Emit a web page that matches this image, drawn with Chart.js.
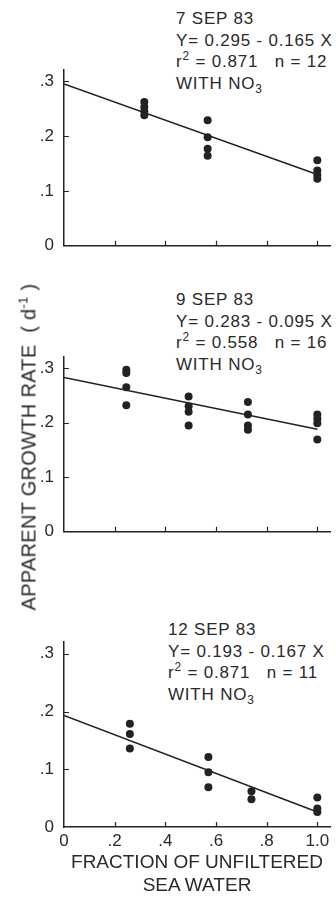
<!DOCTYPE html>
<html>
<head>
<meta charset="utf-8">
<script src="https://cdn.jsdelivr.net/npm/chart.js@4"></script>
<style>
  body { margin: 0; background: #fff; width: 336px; height: 900px; position: relative; overflow: hidden;
         font-family: "Liberation Sans", Arial, sans-serif; color: #2a2a2a; }
  .panel { position: absolute; left: 0; width: 336px; }
  .note { position: absolute; font-size: 17px; line-height: 21.5px; white-space: pre; letter-spacing: 0.8px; }
  .note sup, .note sub { font-size: 70%; line-height: 0; }
  .ytitle { position: absolute; left: 29px; top: 447px; font-size: 20px; white-space: pre; letter-spacing: 0.3px;
            transform: translate(-50%, -50%) rotate(-90deg); }
  .ytitle sup { font-size: 65%; line-height: 0; }
  .xtitle { position: absolute; left: 0; width: 394px; text-align: center; font-size: 19px; white-space: pre; }
</style>
</head>
<body>
<div class="note" style="left:176px;top:8px">7 SEP 83
Y= 0.295 - 0.165 X
r<sup>2</sup> = 0.871   n = 12
WITH NO<sub>3</sub></div>
<div class="note" style="left:176px;top:289px">9 SEP 83
Y= 0.283 - 0.095 X
r<sup>2</sup> = 0.558   n = 16
WITH NO<sub>3</sub></div>
<div class="note" style="left:168px;top:619px">12 SEP 83
Y= 0.193 - 0.167 X
r<sup>2</sup> = 0.871   n = 11
WITH NO<sub>3</sub></div>

<div class="panel" style="top:50px;height:216px"><canvas id="p1"></canvas></div>
<div class="panel" style="top:337px;height:215px"><canvas id="p2"></canvas></div>
<div class="panel" style="top:622px;height:235px"><canvas id="p3"></canvas></div>

<div class="ytitle">APPARENT GROWTH RATE  ( d<sup>-1</sup> )</div>
<div class="xtitle" style="top:851px">FRACTION OF UNFILTERED</div>
<div class="xtitle" style="top:874px">SEA WATER</div>

<script>
const xTicks = [0, 0.2, 0.4, 0.6, 0.8, 1.0];
const xTickLabels = ['0', '.2', '.4', '.6', '.8', '1.0'];
const yTicks = [0, 0.1, 0.2, 0.3];
const yTickLabels = ['0', '.1', '.2', '.3'];
const fitX = [0, 1];

// 7 SEP 83
const sep7X = [0.317, 0.317, 0.317, 0.317, 0.567, 0.567, 0.567, 0.567, 1, 1, 1, 1];
const sep7Y = [0.262, 0.253, 0.245, 0.238, 0.229, 0.198, 0.177, 0.164, 0.156, 0.137, 0.129, 0.122];
const sep7Fit = [0.295, 0.130];

// 9 SEP 83
const sep9X = [0.246, 0.246, 0.246, 0.246, 0.492, 0.492, 0.492, 0.492, 0.726, 0.726, 0.726, 0.726, 1, 1, 1, 1];
const sep9Y = [0.297, 0.291, 0.265, 0.232, 0.248, 0.230, 0.220, 0.195, 0.238, 0.215, 0.195, 0.187, 0.215, 0.207, 0.199, 0.169];
const sep9Fit = [0.283, 0.188];

// 12 SEP 83
const sep12X = [0.26, 0.26, 0.26, 0.57, 0.57, 0.57, 0.74, 0.74, 1, 1, 1];
const sep12Y = [0.179, 0.161, 0.136, 0.121, 0.095, 0.069, 0.062, 0.048, 0.051, 0.032, 0.026];
const sep12Fit = [0.193, 0.026];

const INK = '#222';

// ticks drawn inward from the axes, like the original figure
const inwardTicks = {
  id: 'inwardTicks',
  afterDatasetsDraw(chart) {
    const { ctx, chartArea: a, scales: { x, y } } = chart;
    ctx.save();
    ctx.strokeStyle = INK;
    ctx.lineWidth = 1.2;
    ctx.beginPath();
    xTicks.forEach(v => {
      if (v === 0) return;
      const px = Math.round(x.getPixelForValue(v)) + 0.5;
      ctx.moveTo(px, a.bottom);
      ctx.lineTo(px, a.bottom - 5);
    });
    yTicks.forEach(v => {
      if (v === 0) return;
      const py = Math.round(y.getPixelForValue(v)) + 0.5;
      ctx.moveTo(a.left, py);
      ctx.lineTo(a.left + 5, py);
    });
    ctx.stroke();
    ctx.restore();
  }
};

function makePanel(id, xs, ys, fit, showX) {
  new Chart(document.getElementById(id), {
    type: 'scatter',
    data: {
      datasets: [
        { data: xs.map((x, i) => ({ x, y: ys[i] })), pointRadius: 4, pointBackgroundColor: INK, pointBorderWidth: 0 },
        { type: 'line', data: fitX.map((x, i) => ({ x, y: fit[i] })), borderColor: INK, borderWidth: 1.5, pointRadius: 0 },
      ],
    },
    options: {
      responsive: true, maintainAspectRatio: false, animation: false,
      layout: { padding: { top: 10, right: 6, left: 0, bottom: 0 } },
      plugins: { legend: { display: false }, tooltip: { enabled: false } },
      scales: {
        x: {
          type: 'linear', min: 0, max: 1.05,
          afterFit: s => { s.height = showX ? 30 : 10; },
          afterBuildTicks: s => { s.ticks = xTicks.map(v => ({ value: v })); },
          grid: { drawOnChartArea: false, drawTicks: false },
          border: { color: INK, width: 1.5 },
          ticks: { display: showX, padding: 4, color: '#2a2a2a', font: { family: 'Liberation Sans', size: 17 },
                   maxRotation: 0, autoSkip: false, callback: (v, i) => xTickLabels[i] },
        },
        y: {
          min: 0, max: 0.32,
          afterFit: s => { s.width = 64; },
          afterBuildTicks: s => { s.ticks = yTicks.map(v => ({ value: v })); },
          grid: { drawOnChartArea: false, drawTicks: false },
          border: { color: INK, width: 1.5 },
          ticks: { padding: 10, color: '#2a2a2a', font: { family: 'Liberation Sans', size: 17 },
                   autoSkip: false, callback: (v, i) => yTickLabels[i] },
        },
      },
    },
    plugins: [inwardTicks],
  });
}

makePanel('p1', sep7X, sep7Y, sep7Fit, false);
makePanel('p2', sep9X, sep9Y, sep9Fit, false);
makePanel('p3', sep12X, sep12Y, sep12Fit, true);
</script>
</body>
</html>
